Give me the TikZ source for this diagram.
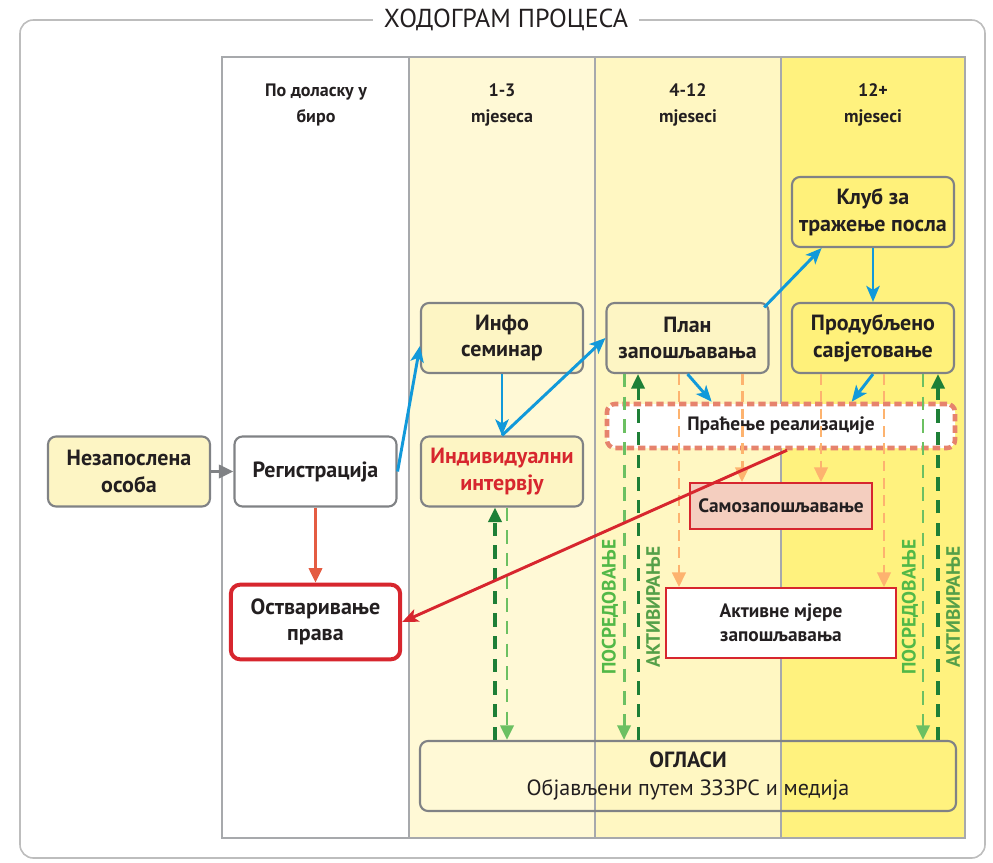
\documentclass[tikz,border=0pt]{standalone}
\usepackage{fontspec}
\setmainfont{PT Sans}
\usepackage{tikz}
\usetikzlibrary{arrows.meta,positioning,calc}

\definecolor{framegray}{HTML}{BDBDBD}
\definecolor{tablegray}{HTML}{A7A9AC}
\definecolor{boxgray}{HTML}{808285}
\definecolor{textdark}{HTML}{231F20}
\definecolor{colA}{HTML}{FFF9D6}
\definecolor{colB}{HTML}{FFF7C2}
\definecolor{colC}{HTML}{FFF27E}
\definecolor{boxyellow}{HTML}{FDF5C4}
\definecolor{boxyellowB}{HTML}{FFF17A}
\definecolor{arrblue}{HTML}{1199DA}
\definecolor{arrred}{HTML}{D7262E}
\definecolor{arrorange}{HTML}{E45C42}
\definecolor{dashorange}{HTML}{FDB36F}
\definecolor{lgreen}{HTML}{6CC062}
\definecolor{dgreen}{HTML}{1E7F37}
\definecolor{tgreenA}{HTML}{52B847}
\definecolor{tgreenB}{HTML}{55A049}
\definecolor{salmon}{HTML}{E6836D}
\definecolor{rosefill}{HTML}{F4CEBF}

\begin{document}
\begin{tikzpicture}[x=0.75pt,y=-0.75pt,
  box/.style={draw=boxgray,line width=1.6pt,rounded corners=6pt,align=center,text=textdark,
    font=\bfseries\fontsize{16.5}{20}\selectfont,minimum width=121.5pt,minimum height=52.5pt,inner sep=1pt},
  hdr/.style={align=center,text=textdark,font=\bfseries\fontsize{13.5}{19.5}\selectfont},
  sqbox/.style={draw=arrred,line width=1.3pt,align=center,text=textdark,font=\bfseries\fontsize{14.5}{18}\selectfont},
  vlabel/.style={rotate=90,font=\bfseries\fontsize{14.5}{16}\selectfont},
  bluearr/.style={arrblue,line width=2.2pt,-{Stealth[length=12pt,width=10pt,inset=3pt]}},
  upline/.style={dgreen,line width=2.3pt,dash pattern=on 10pt off 7pt,-{Triangle[length=11pt,width=10pt]}},
  downline/.style={lgreen,line width=2.2pt,dash pattern=on 10pt off 7pt,-{Triangle[length=11pt,width=10pt]}},
  orline/.style={dashorange,line width=2.2pt,dash pattern=on 8pt off 5pt,-{Triangle[length=11pt,width=10pt]}}
]
  \useasboundingbox (0,0) rectangle (993,863);
  \draw[framegray,line width=1.2pt,rounded corners=10pt] (20,20) rectangle (985,858);
  \node[fill=white,inner xsep=8pt,text=textdark,font=\fontsize{19.5}{22}\selectfont] (naslov) at (506,20) {ХОДОГРАМ ПРОЦЕСА};

  % kolone
  \fill[colA] (409,57) rectangle (595,838);
  \fill[colB] (595,57) rectangle (781,838);
  \fill[colC] (781,57) rectangle (965,838);
  \draw[tablegray,line width=1.5pt] (222,57) rectangle (965,838);
  \foreach \xk in {409,595,781} \draw[tablegray,line width=1.5pt] (\xk,57) -- (\xk,838);

  \node[hdr] (hbiro) at (316,105) {По доласку у\\биро};
  \node[hdr] (hprvi) at (502,105) {1-3\\mjeseca};
  \node[hdr] (hdrugi) at (688,105) {4-12\\mjeseci};
  \node[hdr] (htreci) at (873,105) {12+\\mjeseci};

  % cvorovi
  \node[box,fill=boxyellow] (nezap) at (129,471.5) {Незапослена\\особа};
  \node[box,fill=white] (reg) at (315.5,471.5) {Регистрација};
  \node[box,fill=white,draw=arrred,line width=3pt,rounded corners=7pt,minimum width=127pt,minimum height=56pt] (ostv) at (315.5,622) {Остваривање\\права};
  \node[box,fill=boxyellow] (info) at (502,338) {Инфо\\семинар};
  \node[box,fill=boxyellow,text=arrred] (indiv) at (502,471.5) {Индивидуални\\интервју};
  \node[box,fill=boxyellow] (plan) at (687.5,338) {План\\запошљавања};
  \node[box,fill=boxyellowB] (klub) at (873,212) {Клуб за\\тражење посла};
  \node[box,fill=boxyellowB] (produb) at (873,338) {Продубљено\\савјетовање};
  \node[fill=white,draw=salmon,line width=3.4pt,dash pattern=on 5.5pt off 3pt,rounded corners=6pt,
    minimum width=261pt,minimum height=33pt,text=textdark,font=\bfseries\fontsize{14.5}{17}\selectfont] (pracenje) at (781,426) {Праћење реализације};
  \node[sqbox,fill=rosefill,minimum width=137pt,minimum height=34.5pt,inner xsep=2pt] (samoz) at (781,506) {Самозапошљавање};
  \node[sqbox,fill=white,minimum width=172.5pt,minimum height=52.5pt] (aktivne) at (781,623) {Активне мјере\\запошљавања};
  \node[draw=boxgray,line width=1.6pt,rounded corners=6pt,minimum width=402pt,minimum height=52.5pt,align=center,
    text=textdark,font=\fontsize{16.5}{21}\selectfont] (oglasi) at (688,776) {\textbf{ОГЛАСИ}\\Објављени путем ЗЗЗРС и медија};

  \node[vlabel,text=tgreenA] (posredA) at (610,607) {ПОСРЕДОВАЊЕ};
  \node[vlabel,text=tgreenB] (aktivA) at (653,607) {АКТИВИРАЊЕ};
  \node[vlabel,text=tgreenA] (posredB) at (910,607) {ПОСРЕДОВАЊЕ};
  \node[vlabel,text=tgreenB] (aktivB) at (953,607) {АКТИВИРАЊЕ};

  % isprekidane linije
  \draw[downline] ([xshift=3.75pt]indiv.south) -- ([xshift=3.75pt]indiv.south |- oglasi.north);
  \draw[upline] ([xshift=-5.25pt]indiv.south |- oglasi.north) -- ([xshift=-5.25pt]indiv.south);
  \draw[downline] ([xshift=-47.6pt]plan.south) -- ([xshift=-47.6pt]plan.south |- oglasi.north);
  \draw[upline] ([xshift=-37.1pt]plan.south |- oglasi.north) -- ([xshift=-37.1pt]plan.south);
  \draw[orline] ([xshift=-6.4pt]plan.south) -- ([xshift=-6.4pt]plan.south |- aktivne.north);
  \draw[orline] ([xshift=40.9pt]plan.south) -- ([xshift=40.9pt]plan.south |- samoz.north);
  \draw[orline] ([xshift=-39pt]produb.south) -- ([xshift=-39pt]produb.south |- samoz.north);
  \draw[orline] ([xshift=8.25pt]produb.south) -- ([xshift=8.25pt]produb.south |- aktivne.north);
  \draw[downline] ([xshift=37.5pt]produb.south) -- ([xshift=37.5pt]produb.south |- oglasi.north);
  \draw[upline] ([xshift=48.75pt]produb.south |- oglasi.north) -- ([xshift=48.75pt]produb.south);

  % strelice
  \draw[boxgray,line width=2.2pt,-{Triangle[length=11pt,width=10pt]}] (nezap) -- (reg);
  \draw[arrorange,line width=2.2pt,-{Triangle[length=11pt,width=10pt]}] (reg) -- (ostv);
  \draw[bluearr] (reg.east) -- ([yshift=-6pt]info.west);
  \draw[bluearr] (info) -- (indiv);
  \draw[bluearr] (indiv.north) -- (plan.west);
  \draw[bluearr] ([xshift=-4pt,yshift=-4pt]plan.north east) -- ([xshift=23pt]klub.south west);
  \draw[bluearr] (klub) -- (produb);
  \draw[bluearr] (plan.south) -- ([xshift=-52pt]pracenje.north);
  \draw[bluearr] (produb.south) -- ([xshift=53pt]pracenje.north);
  \draw[arrred,line width=2.2pt,-{Stealth[length=12pt,width=10pt,inset=3pt]}] ([xshift=4.5pt]pracenje.south) -- (ostv.east);
\end{tikzpicture}
\end{document}
